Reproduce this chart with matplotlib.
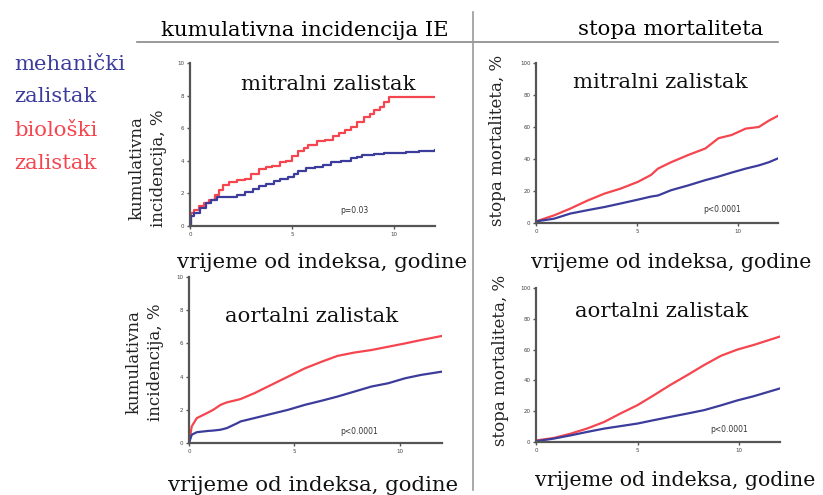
import matplotlib
matplotlib.use("Agg")
import matplotlib.pyplot as plt
from matplotlib.lines import Line2D

# ----------------------------------------------------
# Data (years since index, %)
# ----------------------------------------------------
mi_red_x = [0, 0.03, 0.2, 0.45, 0.7, 0.95, 1.2, 1.4, 1.6, 1.9, 2.3, 2.7, 3.0, 3.4, 3.7, 4.0, 4.4, 4.7,
            5.0, 5.3, 5.6, 5.8, 6.2, 6.6, 7.0, 7.3, 7.6, 7.9, 8.2, 8.5, 8.8, 9.0, 9.3, 9.5, 9.75, 12.0]
mi_red_y = [0, 0.8, 1.0, 1.2, 1.4, 1.6, 1.9, 2.2, 2.5, 2.7, 2.8, 2.9, 3.2, 3.5, 3.6, 3.7, 3.9, 4.0,
            4.3, 4.6, 4.8, 5.0, 5.2, 5.3, 5.5, 5.7, 5.9, 6.1, 6.4, 6.7, 6.9, 7.1, 7.3, 7.6, 7.9, 7.9]
mi_blue_x = [0, 0.03, 0.2, 0.5, 0.8, 1.05, 1.3, 1.8, 2.3, 2.7, 3.1, 3.4, 3.7, 4.1, 4.4, 4.8, 5.1, 5.3,
             5.7, 6.1, 6.5, 6.9, 7.4, 7.9, 8.2, 8.4, 9.0, 9.5, 10.0, 10.6, 11.2, 12.0]
mi_blue_y = [0, 0.6, 0.8, 1.1, 1.4, 1.6, 1.75, 1.8, 1.9, 2.1, 2.3, 2.45, 2.6, 2.75, 2.9, 3.0, 3.2, 3.4,
             3.55, 3.65, 3.75, 3.9, 4.0, 4.15, 4.25, 4.35, 4.4, 4.45, 4.5, 4.55, 4.6, 4.65]

mm_x = [0, 0.9, 1.7, 2.55, 3.4, 4.2, 5.05, 5.7, 6.05, 6.7, 7.55, 8.4, 9.05, 9.7, 10.4, 11.05, 11.55, 12.0]
mm_red = [1, 4.8, 9, 14, 18.4, 21.5, 25.7, 30, 34, 38, 42.5, 46.6, 53, 55, 59, 60, 64, 67]
mm_blue = [1, 2.7, 5.9, 8.0, 10.0, 12.2, 14.6, 16.5, 17.2, 20.5, 23.5, 26.8, 29.0, 31.5, 34.0, 36.0, 38.0, 40.4]

ai_x = [0, 0.13, 0.37, 0.85, 1.15, 1.5, 1.8, 2.3, 2.45, 3.1, 3.9, 4.7, 5.5, 6.3, 7.05, 7.85, 8.65, 9.45, 10.25, 11.0, 12.0]
ai_red = [0, 1.0, 1.5, 1.8, 2.0, 2.3, 2.45, 2.6, 2.65, 3.0, 3.5, 4.0, 4.5, 4.9, 5.25, 5.45, 5.6, 5.8, 6.0, 6.2, 6.45]
ai_blue = [0, 0.5, 0.65, 0.72, 0.75, 0.8, 0.9, 1.2, 1.3, 1.5, 1.75, 2.0, 2.3, 2.55, 2.8, 3.1, 3.4, 3.6, 3.9, 4.1, 4.3]

am_x = [0, 0.87, 1.7, 2.5, 3.35, 4.15, 5.0, 5.8, 6.6, 7.45, 8.27, 9.1, 9.9, 10.7, 12.0]
am_red = [1, 2.6, 5.4, 8.7, 13, 18.5, 24, 30.4, 37, 43.5, 50, 56, 60, 63, 68.5]
am_blue = [0.5, 2.2, 4.3, 6.5, 8.7, 10.3, 12, 14.2, 16.3, 18.5, 20.7, 23.8, 27, 29.7, 34.8]

incid_ticks = [0, 2, 4, 6, 8, 10]
mort_ticks = [0, 20, 40, 60, 80, 100]
x_ticks = [0, 5, 10]

panel_titles = ["mitralni zalistak", "mitralni zalistak", "aortalni zalistak", "aortalni zalistak"]
p_values = ["p=0.03", "p<0.0001", "p<0.0001", "p<0.0001"]

RED = "#f5454f"
BLUE = "#3c3c9c"
W, H = 823, 495
SERIF = "DejaVu Serif"
FS = 15.3


def fx(px):
    return px / W


def fy(py):
    return 1 - py / H


def style_axes(ax, yticks, ymax):
    for s in ["top", "right"]:
        ax.spines[s].set_visible(False)
    for s in ["left", "bottom"]:
        ax.spines[s].set_color("#555555")
        ax.spines[s].set_linewidth(1.6)
    ax.set_xlim(0, 12)
    ax.set_ylim(0, ymax)
    ax.set_xticks(x_ticks)
    ax.set_yticks(yticks)
    ax.tick_params(length=2, width=1, color="#555555", labelsize=4, labelcolor="#444444", pad=2)


fig = plt.figure(figsize=(W / 100, H / 100), dpi=100)

# axes boxes in pixels: left, top, right, bottom
boxes = [(190, 63, 435, 226), (536, 63, 778, 223), (189, 277, 442, 443), (536, 288, 780, 442)]
axs = []
for l, t, r, b in boxes:
    axs.append(fig.add_axes([fx(l), fy(b), fx(r - l), (b - t) / H]))

# mitral, incidence (Kaplan-Meier style steps)
axs[0].plot(mi_red_x, mi_red_y, color=RED, lw=1.6, drawstyle="steps-post")
axs[0].plot(mi_blue_x, mi_blue_y, color=BLUE, lw=1.6, drawstyle="steps-post")
style_axes(axs[0], incid_ticks, 10)

axs[1].plot(mm_x, mm_red, color=RED, lw=1.6)
axs[1].plot(mm_x, mm_blue, color=BLUE, lw=1.6)
style_axes(axs[1], mort_ticks, 100)

axs[2].plot(ai_x, ai_red, color=RED, lw=1.6)
axs[2].plot(ai_x, ai_blue, color=BLUE, lw=1.6)
style_axes(axs[2], incid_ticks, 10)

axs[3].plot(am_x, am_red, color=RED, lw=1.6)
axs[3].plot(am_x, am_blue, color=BLUE, lw=1.6)
style_axes(axs[3], mort_ticks, 100)

# panel titles (baseline positions)
title_pos = [(328, 90), (660, 88), (312, 322), (662, 317)]
for (px, py), t in zip(title_pos, panel_titles):
    fig.text(fx(px), fy(py), t, family=SERIF, fontsize=FS, ha="center", va="baseline", color="#111111")

# p-values
p_pos = [(340, 210), (703, 209), (340, 432), (710, 429)]
for (px, py), t in zip(p_pos, p_values):
    fig.text(fx(px), fy(py), t, fontsize=5.5, ha="left", va="center", color="#333333")

# x labels (right column ones sit close to the figure edge)
xl_pos = [(177, 268, FS), (531, 268, 14.8), (168, 491, FS), (535, 486, 14.8)]
for px, py, fs in xl_pos:
    fig.text(fx(px), fy(py), "vrijeme od indeksa, godine", family=SERIF, fontsize=fs,
             ha="left", va="baseline", color="#111111")

# y labels
for px, py in ((148, 168), (145, 362)):
    fig.text(fx(px), fy(py), "kumulativna\nincidencija, %", family=SERIF, fontsize=12, rotation=90,
             ha="center", va="center", linespacing=1.35, color="#222222")
for px, py in ((497, 140), (500, 360)):
    fig.text(fx(px), fy(py), "stopa mortaliteta, %", family=SERIF, fontsize=12, rotation=90,
             ha="center", va="center", color="#222222")

# column headers and separators
fig.text(fx(305), fy(36), "kumulativna incidencija IE", family=SERIF, fontsize=FS, ha="center", va="baseline")
fig.text(fx(671), fy(35), "stopa mortaliteta", family=SERIF, fontsize=FS, ha="center", va="baseline")
fig.add_artist(Line2D([fx(137), fx(778)], [fy(42), fy(42)], color="#888888", lw=1.2))
fig.add_artist(Line2D([fx(473), fx(473)], [fy(12), fy(490)], color="#999999", lw=1.2))

# legend as coloured words
legend_rows = [("mehanički", BLUE, 70), ("zalistak", BLUE, 102.5), ("biološki", RED, 135.5), ("zalistak", RED, 169)]
for word, col, py in legend_rows:
    fig.text(fx(14), fy(py), word, family=SERIF, fontsize=FS, color=col, ha="left", va="baseline")

fig.savefig("out.png", dpi=100)
